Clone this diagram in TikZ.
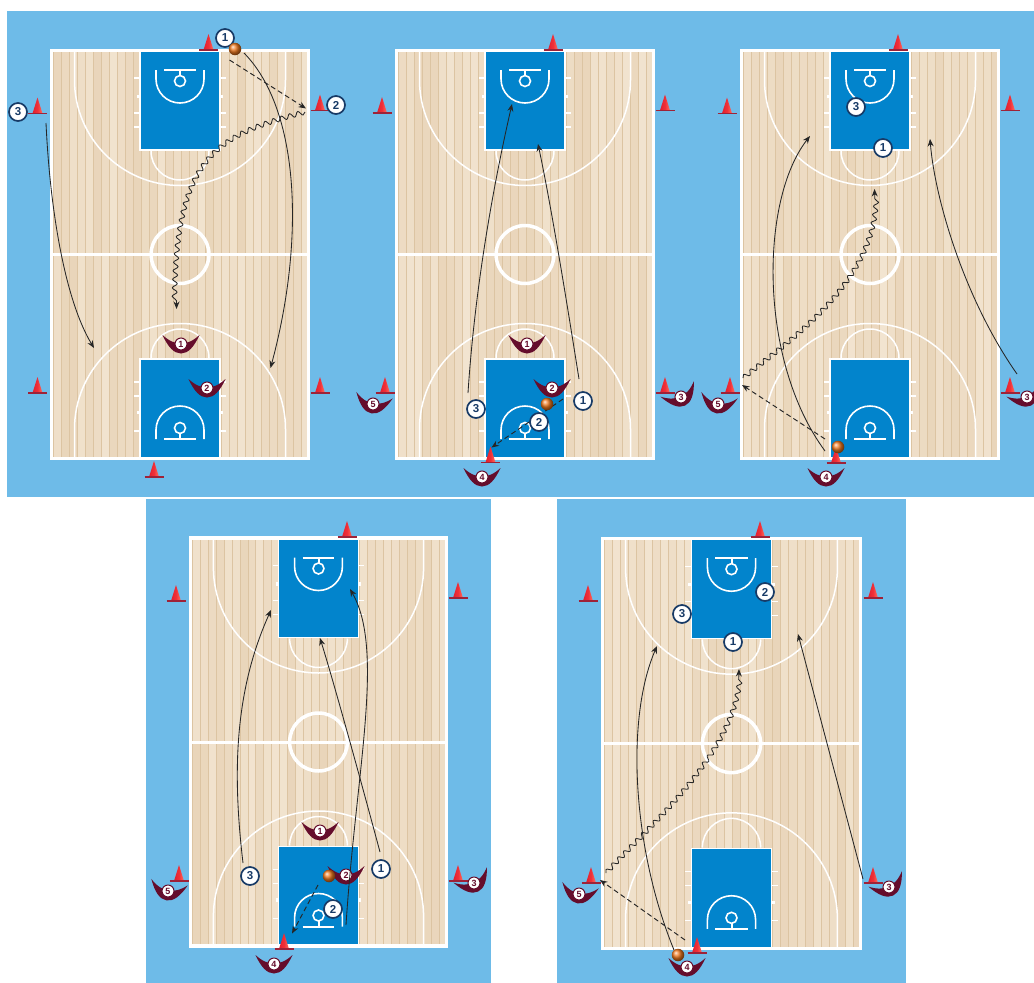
\documentclass[tikz,border=0pt]{standalone}
\usepackage{fontspec}
\setmainfont{Liberation Sans}
\usetikzlibrary{arrows.meta,decorations.pathmorphing}
\definecolor{panelblue}{HTML}{6EBBE8}
\definecolor{keyblue}{HTML}{0284CC}
\definecolor{woodlight}{HTML}{F2E4D0}
\definecolor{wooddark}{HTML}{E9D5BA}
\definecolor{woodline}{HTML}{DCC4A2}
\definecolor{navyring}{HTML}{173A66}
\definecolor{maroon}{HTML}{650D2C}
\definecolor{conebase}{HTML}{9E2238}
\definecolor{coneleft}{HTML}{E02030}
\definecolor{conemid}{HTML}{F03038}
\definecolor{coneright}{HTML}{FF7060}
\definecolor{inkline}{HTML}{262626}
\definecolor{ballorange}{HTML}{F07A20}
\tikzset{
  panelfill/.style={fill=panelblue,draw=none},
  courtline/.style={draw=white,line width=3.4pt},
  thinline/.style={draw=white,line width=1.5pt},
  keyline/.style={draw=white,line width=1.6pt},
  attacker/.style={circle,fill=white,draw=navyring,line width=1.7pt,minimum size=18pt,inner sep=0pt,font=\fontsize{11.5}{11.5}\selectfont\bfseries,text=navyring},
  defnum/.style={circle,fill=white,draw=maroon,line width=1pt,minimum size=12pt,inner sep=0pt,font=\fontsize{9}{9}\selectfont\bfseries,text=maroon},
  ballmark/.style={circle,shade,ball color=ballorange,minimum size=12.5pt,inner sep=0pt},
  runline/.style={draw=inkline,line width=.85pt,-{Stealth[length=7.5pt,width=6pt]}},
  passline/.style={draw=inkline,line width=.95pt,dash pattern=on 5pt off 3.2pt,-{Stealth[length=7.5pt,width=6pt]}},
  dribbleline/.style={draw=inkline,line width=.85pt,-{Stealth[length=7.5pt,width=6pt]},decorate,decoration={snake,segment length=8.5pt,amplitude=2.4pt,post length=8pt,pre length=0pt}},
}
\newcommand{\halfcourtdetail}{%
  \fill[keyblue] (90,3) rectangle (170,101);
  \draw[keyline,line width=1.3pt] (90,3) -- (90,101) -- (170,101) -- (170,3);
  \draw[thinline] (24.5,3) -- (24.5,31) arc[start angle=180,end angle=0,radius=105.5] -- (235.5,3);
  \draw[thinline] (101,102) arc[start angle=180,end angle=0,radius=29];
  \draw[keyline] (106,21) -- (106,30) arc[start angle=180,end angle=0,radius=24] -- (154,21);
  \draw[keyline,line width=2pt] (114,21) -- (146,21);
  \draw[keyline,line width=2pt] (130,21) -- (130,26.5);
  \draw[keyline] (130,32) circle[radius=5.5];
  \foreach \ty in {29,64,78}{
    \draw[keyline,line width=1.2pt] (84,\ty) -- (90,\ty);
    \draw[keyline,line width=1.2pt] (170,\ty) -- (176,\ty);
  }
  \draw[keyline,line width=3.5pt] (87,47.5) -- (90,47.5);
  \draw[keyline,line width=3.5pt] (170,47.5) -- (173,47.5);
}
\newcommand{\basketcourt}[4]{%
  \begin{scope}[shift={(#1,#2)},xscale=#3/260,yscale=#4/411]
    \fill[wooddark] (0,0) rectangle (260,411);
    \foreach \sx in {0,...,31}{
      \pgfmathsetmacro\xa{3+\sx*8}
      \pgfmathsetmacro\xb{\xa+8.2}
      \pgfmathsetmacro\ma{int(random(0,100))}
      \pgfmathsetmacro\mb{int(random(0,100))}
      \fill[woodlight!\ma!wooddark] (\xa,3) rectangle (\xb,205);
      \fill[woodlight!\mb!wooddark] (\xa,205) rectangle (\xb,408);
      \draw[woodline,line width=.5pt] (\xa,3) -- (\xa,408);
    }
    \halfcourtdetail
    \begin{scope}[shift={(0,411)},yscale=-1]
      \halfcourtdetail
    \end{scope}
    \draw[courtline] (1.5,1.5) rectangle (258.5,409.5);
    \draw[draw=white,line width=3pt] (0,205.5) -- (260,205.5);
    \draw[draw=white,line width=3.5pt] (130,205.5) circle[radius=29];
  \end{scope}
}
\newcommand{\conemark}[2]{%
  \begin{scope}[shift={(#1,#2)}]
    \shade[left color=coneleft,right color=coneright,middle color=conemid] (-5,0) -- (0,-16) -- (5,0) -- cycle;
    \draw[conebase,line width=1.6pt] (-9.5,0) -- (9.5,0);
  \end{scope}
}
\newcommand{\defender}[5]{%
  \begin{scope}[shift={(#2,#3)},rotate=#5]
    \fill[maroon] (-18.5,-9) .. controls (-13,3) and (-7,9.5) .. (0,9.5)
      .. controls (7,9.5) and (13,3) .. (18.5,-9)
      .. controls (12,-3) and (6,-.5) .. (0,-.5)
      .. controls (-6,-.5) and (-12,-3) .. (-18.5,-9) -- cycle;
  \end{scope}
  \node[defnum] (#1) at (#2,#3) {#4};
}
\newcommand{\playernode}[4]{\node[attacker] (#1) at (#2,#3) {#4};}
\newcommand{\ballnode}[3]{\node[ballmark] (#1) at (#2,#3) {};}
\begin{document}
\begin{tikzpicture}[x=1pt,y=-1pt]
\pgfmathsetseed{4217}
\useasboundingbox (0,0) rectangle (1034,983);
\fill[white] (0,0) rectangle (1034,983);
\path[panelfill] (7,11) rectangle (1034,497);
\path[panelfill] (146,498.5) rectangle (491,983);
\path[panelfill] (557,498.5) rectangle (906,983);

\basketcourt{50}{49}{260}{411}
\basketcourt{395}{49}{260}{411}
\basketcourt{740}{49}{260}{411}
\basketcourt{189}{536.5}{259}{411}
\basketcourt{601}{537}{261}{413}

% ---------- panel 1
\conemark{208.5}{50}\conemark{320}{110.5}\conemark{37.5}{113.5}
\conemark{37.5}{393}\conemark{320}{393}\conemark{154}{477}
\defender{aDa}{181}{344}{1}{0}
\defender{aDb}{207}{388}{2}{0}
\playernode{aPa}{225}{38}{1}
\playernode{aPb}{336}{105}{2}
\playernode{aPc}{18}{112}{3}
\ballnode{aB}{235}{49}
\coordinate (a1s) at (244,53);\coordinate (a1e) at (270.5,368);
\coordinate (a3s) at (46,123);\coordinate (a3e) at (94,348);
\coordinate (a2s) at (229.5,60);\coordinate (a2e) at (306,108.5);
\coordinate (a4s) at (305,112);\coordinate (a4e) at (176.5,309);
\draw[runline] (a1s) .. controls (300,110) and (305,240) .. (a1e);
\draw[runline] (a3s) .. controls (50,210) and (65,300) .. (a3e);
\draw[passline] (a2s) -- (a2e);
\draw[dribbleline] (a4s) .. controls (218,135) and (176,155) .. (a4e);

% ---------- panel 2
\conemark{553}{50}\conemark{382}{113}\conemark{665}{110.5}
\conemark{385}{393}\conemark{665}{393}\conemark{490.5}{462.5}
\defender{bDa}{527}{344}{1}{0}
\defender{bDb}{552}{388}{2}{0}
\defender{bDc}{681}{397}{3}{25}
\defender{bDd}{482}{477}{4}{0}
\defender{bDe}{373}{404}{5}{-10}
\coordinate (b1s) at (579,379);\coordinate (b1e) at (538,144);
\coordinate (b3s) at (468,393);\coordinate (b3e) at (512,104);
\coordinate (b2s) at (563,399);\coordinate (b2e) at (491.5,447.5);
\draw[passline] (b2s) -- (b2e);
\draw[runline] (b1s) .. controls (568,310) and (552,210) .. (b1e);
\draw[runline] (b3s) .. controls (474,300) and (490,200) .. (b3e);
\playernode{bPa}{583}{401}{1}
\playernode{bPb}{539}{422}{2}
\playernode{bPc}{476}{409}{3}
\ballnode{bB}{547}{404}

% ---------- panel 3
\conemark{898}{50}\conemark{727}{113.5}\conemark{1010}{110.5}
\conemark{730}{393}\conemark{1010}{393}\conemark{836}{463}
\defender{cDc}{1027}{397}{3}{25}
\defender{cDd}{826}{477}{4}{0}
\defender{cDe}{718}{404}{5}{-10}
\coordinate (c1s) at (825,451);\coordinate (c1e) at (810,136);
\coordinate (c3s) at (1017,374);\coordinate (c3e) at (930,139);
\coordinate (c2s) at (825,439);\coordinate (c2e) at (742,385);
\coordinate (c4s) at (743,378);\coordinate (c4e) at (874.5,189);
\draw[runline] (c1s) .. controls (758,360) and (760,200) .. (c1e);
\draw[runline] (c3s) .. controls (965,300) and (935,200) .. (c3e);
\draw[passline] (c2s) -- (c2e);
\draw[dribbleline] (c4s) .. controls (790,340) and (880,280) .. (c4e);
\playernode{cPa}{883}{148}{1}
\playernode{cPc}{856}{107}{3}
\ballnode{cB}{838}{447}

% ---------- panel 4
\conemark{347}{537}\conemark{176}{601}\conemark{458}{598}
\conemark{179}{881}\conemark{458}{881}\conemark{284}{949}
\defender{dDa}{320}{831}{1}{0}
\defender{dDb}{346}{875}{2}{0}
\defender{dDc}{474}{883}{3}{25}
\defender{dDd}{274}{964}{4}{0}
\defender{dDe}{168}{891}{5}{-10}
\coordinate (d1s) at (380,852);\coordinate (d1e) at (320,638);
\coordinate (d2s) at (346,925);\coordinate (d2e) at (350,589);
\coordinate (d3s) at (243,863);\coordinate (d3e) at (271,610);
\coordinate (d4s) at (318,885);\coordinate (d4e) at (292,933.5);
\draw[runline] (d1s) .. controls (362,785) and (336,690) .. (d1e);
\draw[runline] (d2s) .. controls (356,770) and (385,650) .. (d2e);
\draw[runline] (d3s) .. controls (232,770) and (235,690) .. (d3e);
\draw[passline] (d4s) -- (d4e);
\playernode{dPa}{381}{869}{1}
\playernode{dPb}{333}{909}{2}
\playernode{dPc}{250}{876}{3}
\ballnode{dB}{329}{876}

% ---------- panel 5
\conemark{760}{537}\conemark{588}{601}\conemark{873}{598}
\conemark{591}{883}\conemark{873}{883}\conemark{697}{953}
\defender{eDc}{889}{887}{3}{25}
\defender{eDd}{687}{967}{4}{0}
\defender{eDe}{579}{894}{5}{-10}
\coordinate (e1s) at (674,950);\coordinate (e1e) at (657,646);
\coordinate (e3s) at (863,879);\coordinate (e3e) at (798,634);
\coordinate (e2s) at (685,940);\coordinate (e2e) at (600,880);
\coordinate (e4s) at (606,873);\coordinate (e4e) at (739,669);
\draw[runline] (e1s) .. controls (633,850) and (625,720) .. (e1e);
\draw[runline] (e3s) -- (e3e);
\draw[passline] (e2s) -- (e2e);
\draw[dribbleline] (e4s) .. controls (650,825) and (740,750) .. (e4e);
\playernode{ePa}{733}{642}{1}
\playernode{ePb}{765}{592}{2}
\playernode{ePc}{682}{614}{3}
\ballnode{eB}{678}{955}
\end{tikzpicture}
\end{document}
